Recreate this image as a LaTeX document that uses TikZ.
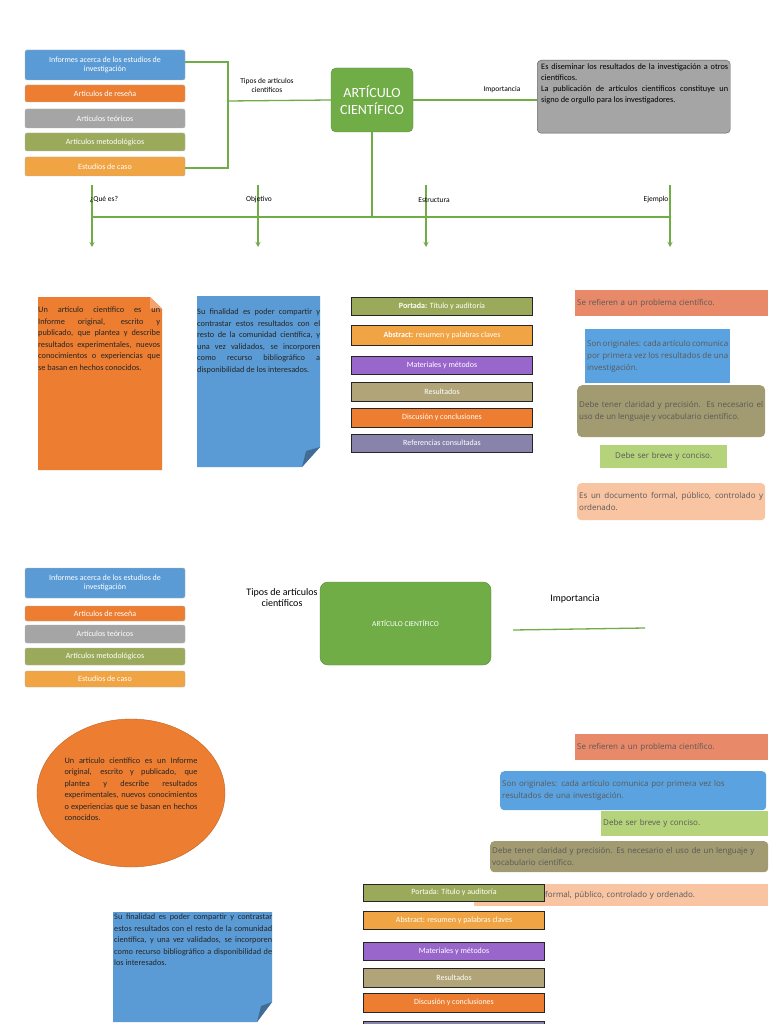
\documentclass[tikz,border=0pt]{standalone}
\usepackage{fontspec}
\setmainfont{Carlito}
\newfontfamily\osans{Open Sans}
\usetikzlibrary{arrows.meta,shapes.geometric}
\definecolor{cblue}{HTML}{5B9BD5}
\definecolor{corange}{HTML}{ED7D31}
\definecolor{cgray}{HTML}{A5A5A5}
\definecolor{colive}{HTML}{9BAA5A}
\definecolor{camber}{HTML}{F0A443}
\definecolor{cgreen}{HTML}{70AD47}
\definecolor{cpurple}{HTML}{9966CC}
\definecolor{ckhaki}{HTML}{B0A478}
\definecolor{clav}{HTML}{8883AA}
\definecolor{csalmon}{HTML}{E8896A}
\definecolor{cdkhaki}{HTML}{A29A70}
\definecolor{clime}{HTML}{B5D37A}
\definecolor{cpeach}{HTML}{F8C4A2}
\definecolor{cexblue}{HTML}{5BA3E0}
\definecolor{ctext}{HTML}{595959}
\hyphenpenalty=10000
\exhyphenpenalty=10000
\emergencystretch=3em
\tikzset{
  tipo/.style={draw=gray!60, rounded corners=2pt, text=white, font=\fontsize{8}{9.5}\selectfont, align=center, minimum width=160, inner sep=1pt},
  parte/.style={draw=black!85, line width=1pt, text=white, font=\fontsize{8}{9.5}\selectfont, minimum width=181, inner sep=1pt},
  ejem/.style={text=ctext, font=\osans\fontsize{8}{12}\selectfont, align=justify, anchor=north west, inner sep=2pt},
  lin/.style={draw=cgreen, line width=1.3pt},
  lbl/.style={font=\fontsize{7.5}{9}\selectfont, align=center},
  doc/.style={font=\fontsize{8.3}{11.5}\selectfont, align=justify, text=black!85, inner sep=0pt}
}
\begin{document}
\begin{tikzpicture}[x=1pt, y=-1pt]
\useasboundingbox[fill=white] (0,0) rectangle (768,1024);

% ===== first map =====
% types of articles
\node[tipo, fill=cblue, minimum height=30] (inf) at (105,65) {Informes acerca de los estudios de\\investigación};
\node[tipo, fill=corange, minimum height=17] (res) at (105,93.5) {Artículos de reseña};
\node[tipo, fill=cgray, minimum height=19] (teo) at (105,118.5) {Artículos teóricos};
\node[tipo, fill=colive, minimum height=18] (met) at (105,142) {Artículos metodológicos};
\node[tipo, fill=camber, minimum height=19] (cas) at (105,166.5) {Estudios de caso};

% central node
\node[fill=cgreen, draw=cgreen!80!black, rounded corners=5pt, minimum width=82, minimum height=64, text=white, font=\fontsize{14}{17}\selectfont, align=center] (art) at (372,100) {ARTÍCULO\\CIENTÍFICO};

% bracket
\coordinate (br) at (228,101);
\draw[lin] (inf.east |- 0,62) -| (br |- 0,168) -- (cas.east |- 0,168);
\draw[lin] (br) -- (art.west);
\node[lbl] (tipos) at (267,85) {Tipos de articulos\\cientificos};

% importance
\node[fill=cgray, draw=gray!70!black, rounded corners=4pt, minimum width=193, minimum height=73, anchor=north west] (imp) at (537,60) {};
\node[font=\fontsize{8.3}{11}\selectfont, align=justify, text width=187, anchor=north west, inner sep=0pt] (imptx) at (541,64) {Es diseminar los resultados de la investigación a otros científicos.\\La publicación de artículos científicos constituye un signo de orgullo para los investigadores.};
\draw[lin] (art.east) -- (imp.west |- art.east);
\node[lbl] (impl) at (502,90) {Importancia};

% branches
\coordinate (busL) at (92,217);
\coordinate (busR) at (670,217);
\draw[lin] (art.south) -- (art.south |- busL);
\draw[lin] (busL) -- (busR);
\foreach \x/\t in {92/q, 258/o, 426/e, 670/j}
  \draw[lin, -{Stealth[length=5pt,width=5pt]}] (\x,185) -- (\x,247) coordinate (\t);
\node[lbl] (lq) at (104,200) {¿Qué es?};
\node[lbl] (lo) at (259,200) {Objetivo};
\node[lbl] (le) at (434,200) {Estructura};
\node[lbl] (lj) at (656,200) {Ejemplo};

% what is it
\fill[corange] (38,297) -- (150,297) -- (162,309) -- (162,470) -- (38,470) -- cycle;
\fill[corange!70!white] (150,297) -- (162,309) -- (150,309) -- cycle;
\node[doc, text width=122, anchor=north west] (quees) at (38,307) {Un artículo científico es un Informe original, escrito y publicado, que plantea y describe resultados experimentales, nuevos conocimientos o experiencias que se basan en hechos conocidos.};

% objective
\fill[cblue] (197,296) -- (320,296) -- (320,447) -- (302,467) -- (197,467) -- cycle;
\fill[cblue!70!black] (320,447) -- (302,467) -- (306,451) -- cycle;
\node[doc, text width=123, anchor=north west] (obj) at (197,309) {Su finalidad es poder compartir y contrastar estos resultados con el resto de la comunidad científica, y una vez validados, se incorporen como recurso bibliográfico a disponibilidad de los interesados.};

% structure
\node[parte, fill=colive, minimum height=18] (por) at (442,306) {\textbf{Portada:} Título y auditoría};
\node[parte, fill=camber, minimum height=20] (abs) at (442,335) {\textbf{Abstract:} resumen y palabras claves};
\node[parte, fill=cpurple, minimum height=18] (mat) at (442,365) {Materiales y métodos};
\node[parte, fill=ckhaki, minimum height=19] (resu) at (442,391.5) {Resultados};
\node[parte, fill=corange, minimum height=19] (dis) at (442,417.5) {Discusión y conclusiones};
\node[parte, fill=clav, minimum height=18] (ref) at (442,443) {Referencias consultadas};

% examples
\node[ejem, fill=csalmon, text width=189, minimum height=26, align=left] (e1) at (575,290) {Se refieren a un problema científico.};
\node[ejem, fill=cexblue, text width=141, minimum height=54] (e2) at (585,329) {Son originales: cada artículo comunica por primera vez los resultados de una investigación.};
\node[ejem, fill=cdkhaki, rounded corners=5pt, text width=184, minimum height=52] (e3) at (577,385) {Debe tener claridad y precisión. Es necesario el uso de un lenguaje y vocabulario científico.};
\node[ejem, fill=clime, text width=123, minimum height=23, align=center] (e4) at (600,445) {Debe ser breve y conciso.};
\node[ejem, fill=cpeach, rounded corners=4pt, text width=184, minimum height=37] (e5) at (577,483) {Es un documento formal, público, controlado y ordenado.};

% ===== second map =====
\node[tipo, fill=cblue, minimum height=30] (inf2) at (105,583) {Informes acerca de los estudios de\\investigación};
\node[tipo, fill=corange, minimum height=15] (res2) at (105,613.5) {Artículos de reseña};
\node[tipo, fill=cgray, minimum height=18] (teo2) at (105,634) {Artículos teóricos};
\node[tipo, fill=colive, minimum height=17] (met2) at (105,656.5) {Artículos metodológicos};
\node[tipo, fill=camber, minimum height=16] (cas2) at (105,679) {Estudios de caso};

\node[fill=cgreen, draw=cgreen!80!black, rounded corners=8pt, minimum width=171, minimum height=83, text=white, font=\fontsize{7.5}{8}\selectfont] (art2) at (405.5,623.5) {ARTÍCULO CIENTÍFICO};
\node[font=\fontsize{10}{11}\selectfont, align=center] (tipos2) at (282,598) {Tipos de artículos\\científicos};
\node[font=\fontsize{10}{11}\selectfont] (imp2) at (575,599) {Importancia};
\coordinate (l2a) at (513,630);
\coordinate (l2b) at (645,628);
\draw[lin] (l2a) -- (l2b);

% what is it, ellipse
\node[ellipse, fill=corange, draw=corange!80!black, minimum width=188, minimum height=148] (quees2) at (131,793) {};
\node[doc, text width=133] (qtx2) at (131,789) {Un artículo científico es un Informe original, escrito y publicado, que plantea y describe resultados experimentales, nuevos conocimientos o experiencias que se basan en hechos conocidos.};

% objective
\fill[cblue] (113,912) -- (272,912) -- (272,1002) -- (257,1022) -- (113,1022) -- cycle;
\fill[cblue!70!black] (272,1002) -- (257,1022) -- (261,1006) -- cycle;
\node[doc, text width=158, anchor=north west] (obj2) at (114,914) {Su finalidad es poder compartir y contrastar estos resultados con el resto de la comunidad científica, y una vez validados, se incorporen como recurso bibliográfico a disponibilidad de los interesados.};

% examples
\node[ejem, fill=csalmon, text width=189, minimum height=26, align=left] (f1) at (575,734) {Se refieren a un problema científico.};
\node[ejem, fill=cexblue, rounded corners=4pt, text width=262, minimum height=39, align=left] (f2) at (500,771) {Son originales: cada artículo comunica por primera vez los resultados de una investigación.};
\node[ejem, fill=clime, text width=163, minimum height=25, align=left] (f3) at (601,811) {Debe ser breve y conciso.};
\node[ejem, fill=cdkhaki, rounded corners=4pt, text width=274, minimum height=31, align=left] (f4) at (490,841) {Debe tener claridad y precisión. Es necesario el uso de un lenguaje y vocabulario científico.};
\node[ejem, fill=cpeach, text width=290, minimum height=22, align=left] (f5) at (474,884) {Es un documento formal, público, controlado y ordenado.};

% structure
\node[parte, fill=colive, minimum height=17] (por2) at (454,892.5) {Portada: Título y auditoría};
\node[parte, fill=camber, minimum height=18] (abs2) at (454,920) {Abstract: resumen y palabras claves};
\node[parte, fill=cpurple, minimum height=18] (mat2) at (454,951) {Materiales y métodos};
\node[parte, fill=ckhaki, minimum height=19] (resu2) at (454,977.5) {Resultados};
\node[parte, fill=corange, minimum height=19] (dis2) at (454,1002.5) {Discusión y conclusiones};
\node[parte, fill=clav, minimum height=18] (ref2) at (454,1030) {};
\end{tikzpicture}
\end{document}
